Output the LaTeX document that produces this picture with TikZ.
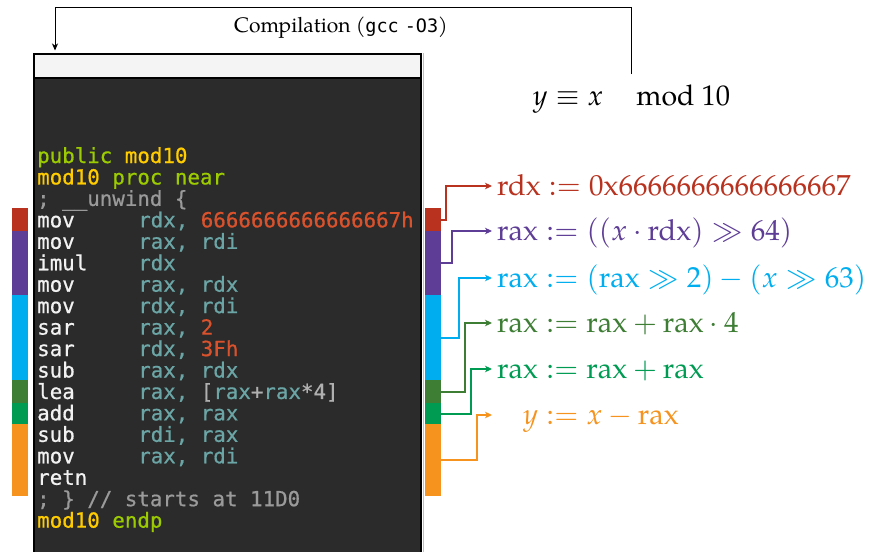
\documentclass[tikz,border=0pt]{standalone}
\usepackage{amsmath}
\usepackage{mathtools}
\usepackage{mathpazo}
\usepackage[no-math]{fontspec}
\setmainfont{TeX Gyre Pagella}
\newfontfamily\codefont[FakeBold=0.7]{DejaVu Sans Mono}
\newfontfamily\flagfont{DejaVu Sans Mono}
\usetikzlibrary{arrows.meta}

\definecolor{winbg}{HTML}{2B2B2B}
\definecolor{winhdr}{HTML}{F4F4F4}
\definecolor{cmn}{HTML}{F2F2F2}
\definecolor{creg}{HTML}{6BA5A5}
\definecolor{cnum}{HTML}{D9522C}
\definecolor{ccom}{HTML}{9A9A9A}
\definecolor{cpub}{HTML}{9BCB00}
\definecolor{cname}{HTML}{FFCC00}
\definecolor{cbrk}{HTML}{B0B0B0}
\definecolor{sred}{HTML}{B8321F}
\definecolor{spur}{HTML}{5E3D96}
\definecolor{scya}{HTML}{00AEEF}
\definecolor{sdgr}{HTML}{3D7D34}
\definecolor{sgrn}{HTML}{009B52}
\definecolor{sora}{HTML}{F5931E}

\newcommand{\Rg}[1]{\textcolor{creg}{#1}}
\newcommand{\Nm}[1]{\textcolor{cnum}{#1}}
\newcommand{\Br}[1]{\textcolor{cbrk}{#1}}

\begin{document}
\begin{tikzpicture}[x=1pt,y=-1pt,
  codetxt/.style={anchor=base west, inner sep=0pt, font=\codefont\fontsize{20.8}{21.45}\selectfont},
  mnem/.style={codetxt, text=cmn},
  oper/.style={codetxt, text=creg},
  segbar/.style={rectangle, anchor=north west, inner sep=0pt, minimum width=16pt},
  conn/.style={line width=2pt, -{Stealth[length=7pt,width=6.5pt,inset=2pt]}},
  lab/.style={anchor=base west, inner sep=0pt, font=\fontsize{29}{31}\selectfont},
]
\useasboundingbox (0,0) rectangle (882,551);

% code window
\node[rectangle, draw=black, line width=1.5pt, fill=winbg, anchor=north west,
      minimum width=387pt, minimum height=520pt, inner sep=0pt] (win) at (33,53) {};
\node[rectangle, draw=black, line width=1.5pt, fill=winhdr, anchor=north west,
      minimum width=387pt, minimum height=24pt, inner sep=0pt] (hdr) at (win.north west) {};
\draw[draw=black!25, line width=1pt] ([xshift=1.5pt]win.north east) -- ([xshift=1.5pt]win.south east);

% listing
\node[mnem, text=cpub] (c0) at (37,163) {public \textcolor{cname}{mod10}};
\node[mnem, text=cname] (c1) at (37,184.45) {mod10 \textcolor{cpub}{proc near}};
\node[mnem, text=ccom] (c2) at (37,205.9) {; \_\_unwind \{};
\node[mnem] (c3) at (37,227.35) {mov};   \node[oper] (o3) at (138,227.35) {rdx, \Nm{6666666666666667h}};
\node[mnem] (c4) at (37,248.8) {mov};    \node[oper] (o4) at (138,248.8) {rax, rdi};
\node[mnem] (c5) at (37,270.25) {imul};  \node[oper] (o5) at (138,270.25) {rdx};
\node[mnem] (c6) at (37,291.7) {mov};    \node[oper] (o6) at (138,291.7) {rax, rdx};
\node[mnem] (c7) at (37,313.15) {mov};   \node[oper] (o7) at (138,313.15) {rdx, rdi};
\node[mnem] (c8) at (37,334.6) {sar};    \node[oper] (o8) at (138,334.6) {rax, \Nm{2}};
\node[mnem] (c9) at (37,356.05) {sar};   \node[oper] (o9) at (138,356.05) {rdx, \Nm{3Fh}};
\node[mnem] (c10) at (37,377.5) {sub};   \node[oper] (o10) at (138,377.5) {rax, rdx};
\node[mnem] (c11) at (37,398.95) {lea};  \node[oper] (o11) at (138,398.95) {rax, \Br{[}rax\Br{+}rax\Br{*4]}};
\node[mnem] (c12) at (37,420.4) {add};   \node[oper] (o12) at (138,420.4) {rax, rax};
\node[mnem] (c13) at (37,441.85) {sub};  \node[oper] (o13) at (138,441.85) {rdi, rax};
\node[mnem] (c14) at (37,463.3) {mov};   \node[oper] (o14) at (138,463.3) {rax, rdi};
\node[mnem] (c15) at (37,484.75) {retn};
\node[mnem, text=ccom] (c16) at (37,506.2) {; \} // starts at 11D0};
\node[mnem, text=cname] (c17) at (37,527.65) {mod10 \textcolor{cpub}{endp}};

% coloured markers, left of the listing
\node[segbar, fill=sred, minimum height=23pt] (lb1) at (12,208) {};
\node[segbar, fill=spur, minimum height=64pt] (lb2) at (12,231) {};
\node[segbar, fill=scya, minimum height=85pt] (lb3) at (12,295) {};
\node[segbar, fill=sdgr, minimum height=23pt] (lb4) at (12,380) {};
\node[segbar, fill=sgrn, minimum height=21pt] (lb5) at (12,403) {};
\node[segbar, fill=sora, minimum height=72pt] (lb6) at (12,424) {};

% coloured markers, right of the listing
\node[segbar, fill=sred, minimum height=23pt] (rb1) at (425,208) {};
\node[segbar, fill=spur, minimum height=64pt] (rb2) at (425,231) {};
\node[segbar, fill=scya, minimum height=85pt] (rb3) at (425,295) {};
\node[segbar, fill=sdgr, minimum height=23pt] (rb4) at (425,380) {};
\node[segbar, fill=sgrn, minimum height=21pt] (rb5) at (425,403) {};
\node[segbar, fill=sora, minimum height=72pt] (rb6) at (425,424) {};

% semantics of each block
\node[lab, text=sred] (l1) at (497,195) {$\mathrm{rdx} := \mathrm{0x6666666666666667}$};
\node[lab, text=spur] (l2) at (497,240) {$\mathrm{rax} := ((x \cdot \mathrm{rdx}) \gg 64)$};
\node[lab, text=scya] (l3) at (497,287) {$\mathrm{rax} := (\mathrm{rax} \gg 2) - (x \gg 63)$};
\node[lab, text=sdgr] (l4) at (497,332) {$\mathrm{rax} := \mathrm{rax} + \mathrm{rax} \cdot 4$};
\node[lab, text=sgrn] (l5) at (497,378) {$\mathrm{rax} := \mathrm{rax} + \mathrm{rax}$};
\node[lab, text=sora] (l6) at (497,424) {$\hphantom{\mathrm{rax}}\mathllap{y} := x - \mathrm{rax}$};

\coordinate (t1) at (492,186);
\coordinate (t2) at (492,231);
\coordinate (t3) at (492,278);
\coordinate (t4) at (492,323);
\coordinate (t5) at (492,369);
\coordinate (t6) at (492,415);

\draw[conn, sred] (rb1.east) -- ++(5,0) |- (t1);
\draw[conn, spur] (rb2.east) -- ++(11,0) |- (t2);
\draw[conn, scya] (rb3.east) -- ++(18,0) |- (t3);
\draw[conn, sdgr] (rb4.east) -- ++(24,0) |- (t4);
\draw[conn, sgrn] (rb5.east) -- ++(30,0) |- (t5);
\draw[conn, sora] (rb6.east) -- ++(36,0) |- (t6);

% source formula and compilation step
\node[anchor=base, inner sep=0pt, outer ysep=10pt, font=\fontsize{28.5}{30}\selectfont] (fml) at (631.5,105)
  {$y \equiv x \quad\, \mathrm{mod}\ 10$};
\node[anchor=base, inner sep=0pt, font=\fontsize{21}{24}\selectfont] (cmp) at (341,33)
  {Compilation ({\flagfont\fontsize{18.5}{20}\selectfont gcc\kern6pt-O3})};
\coordinate (bend) at (55,8);
\draw[line width=1pt, -{Stealth[length=7pt,width=6pt,inset=2pt]}, shorten >=2.5pt]
  (fml.north) |- (bend) -- (bend |- win.north);
\end{tikzpicture}
\end{document}
